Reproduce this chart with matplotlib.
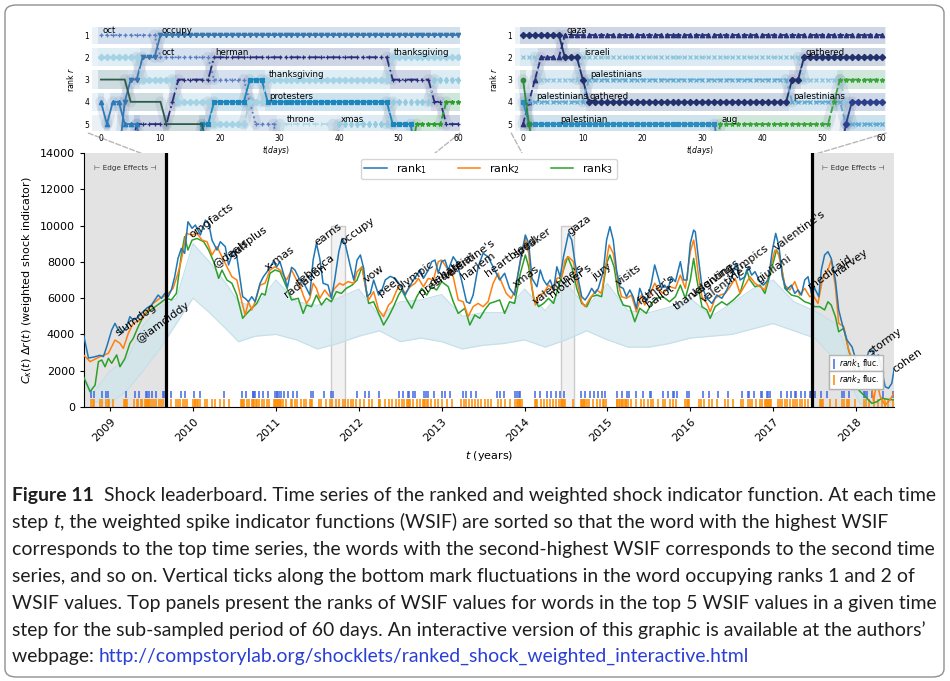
import numpy as np
import matplotlib
matplotlib.use('Agg')
import matplotlib.pyplot as plt
from matplotlib.patches import Rectangle, FancyBboxPatch, ConnectionPatch
from matplotlib.lines import Line2D

# ---------------- main panel data: (year, weighted shock indicator)
rank1 = [(2008.68, 4000), (2008.74, 2700), (2008.80, 2750), (2008.88, 2850), (2008.92, 2780), (2008.96, 3320),
         (2009.02, 4240), (2009.06, 4610), (2009.10, 4240), (2009.14, 4060), (2009.20, 4430), (2009.24, 4980),
         (2009.28, 4790), (2009.32, 4890), (2009.38, 5160), (2009.44, 5440), (2009.50, 5620), (2009.54, 5900),
         (2009.58, 6170), (2009.62, 5990), (2009.66, 6260), (2009.70, 6080), (2009.74, 6450), (2009.78, 7180),
         (2009.82, 8190), (2009.86, 8740), (2009.90, 8470), (2009.94, 10210), (2009.99, 9850), (2010.03, 10030),
         (2010.09, 9480), (2010.15, 10300), (2010.19, 10120), (2010.23, 9200), (2010.29, 8650), (2010.33, 9110),
         (2010.39, 8840), (2010.43, 7830), (2010.49, 8650), (2010.53, 8280), (2010.57, 7000), (2010.60, 6080),
         (2010.63, 5990), (2010.67, 5800), (2010.71, 6080), (2010.75, 5800), (2010.81, 6820), (2010.85, 7180),
         (2010.91, 7550), (2010.97, 8010), (2011.01, 7730), (2011.05, 8010), (2011.14, 6600), (2011.19, 7700),
         (2011.23, 7550), (2011.29, 7000), (2011.35, 6720), (2011.41, 6170), (2011.45, 8100), (2011.49, 9020),
         (2011.53, 8190), (2011.57, 6820), (2011.63, 6720), (2011.67, 5990), (2011.71, 7000), (2011.76, 8560),
         (2011.80, 9290), (2011.84, 8930), (2011.90, 7730), (2011.94, 7000), (2011.98, 8100), (2012.02, 8380),
         (2012.06, 7640), (2012.10, 6080), (2012.14, 6260), (2012.18, 7000), (2012.24, 6170), (2012.28, 6450),
         (2012.32, 7000), (2012.38, 7200), (2012.44, 7090), (2012.50, 6720), (2012.56, 6170), (2012.60, 6540),
         (2012.66, 7000), (2012.70, 7270), (2012.74, 7550), (2012.78, 7090), (2012.84, 7550), (2012.88, 8010),
         (2012.92, 8100), (2012.96, 7370), (2013.00, 8010), (2013.04, 8100), (2013.08, 7550), (2013.14, 8280),
         (2013.18, 8010), (2013.24, 7000), (2013.30, 5800), (2013.34, 5710), (2013.38, 6170), (2013.44, 7730),
         (2013.50, 8470), (2013.56, 8280), (2013.60, 7920), (2013.64, 7550), (2013.70, 7000), (2013.76, 7370),
         (2013.82, 6540), (2013.88, 6170), (2013.95, 8100), (2014.01, 9480), (2014.05, 9020), (2014.09, 7090),
         (2014.15, 6630), (2014.19, 7550), (2014.23, 7000), (2014.27, 6720), (2014.31, 7000), (2014.35, 6450),
         (2014.39, 7730), (2014.43, 7180), (2014.47, 8280), (2014.53, 9570), (2014.57, 9200), (2014.61, 7920),
         (2014.65, 7000), (2014.69, 6080), (2014.73, 5900), (2014.77, 6170), (2014.81, 6540), (2014.85, 6260),
         (2014.89, 6540), (2014.95, 7460), (2014.99, 9200), (2015.03, 9940), (2015.07, 9200), (2015.11, 7550),
         (2015.15, 6630), (2015.19, 6540), (2015.23, 6080), (2015.27, 6450), (2015.31, 6080), (2015.35, 5440),
         (2015.39, 6540), (2015.43, 6080), (2015.47, 5800), (2015.53, 6820), (2015.57, 7830), (2015.61, 7180),
         (2015.65, 6540), (2015.69, 6720), (2015.73, 6450), (2015.77, 7180), (2015.82, 6910), (2015.88, 8010),
         (2015.92, 7000), (2015.96, 7000), (2016.00, 9020), (2016.04, 9750), (2016.06, 9660), (2016.10, 8100),
         (2016.14, 6630), (2016.20, 5990), (2016.26, 5710), (2016.32, 6170), (2016.38, 5990), (2016.44, 6450),
         (2016.50, 7180), (2016.55, 7920), (2016.60, 7000), (2016.66, 7180), (2016.70, 7730), (2016.74, 7270),
         (2016.78, 7460), (2016.84, 6910), (2016.88, 6720), (2016.94, 7000), (2016.99, 8650), (2017.03, 9570),
         (2017.07, 8840), (2017.11, 7180), (2017.16, 6450), (2017.22, 6720), (2017.26, 6260), (2017.30, 6450),
         (2017.34, 6170), (2017.38, 7000), (2017.42, 7180), (2017.46, 6260), (2017.50, 6540), (2017.55, 6080),
         (2017.58, 7550), (2017.62, 8380), (2017.66, 8560), (2017.70, 8190), (2017.75, 7000), (2017.79, 5350),
         (2017.83, 4610), (2017.89, 3690), (2017.95, 3320), (2018.01, 2410), (2018.07, 1670), (2018.09, 1950),
         (2018.15, 3050), (2018.19, 3140), (2018.23, 2780), (2018.27, 2870), (2018.31, 2040), (2018.35, 1120),
         (2018.39, 1030), (2018.43, 1300), (2018.46, 2130)]

rank2 = [(2008.68, 2870), (2008.76, 2500), (2008.88, 2780), (2008.98, 2960), (2009.06, 3690), (2009.12, 3510),
         (2009.16, 3230), (2009.22, 4060), (2009.28, 4610), (2009.36, 4790), (2009.44, 5250), (2009.52, 5710),
         (2009.60, 5990), (2009.68, 6170), (2009.76, 6540), (2009.82, 7370), (2009.86, 8100), (2009.92, 9570),
         (2009.99, 9480), (2010.05, 9570), (2010.11, 9200), (2010.17, 9110), (2010.23, 8380), (2010.29, 8840),
         (2010.35, 8280), (2010.41, 7730), (2010.47, 7180), (2010.53, 7000), (2010.59, 5800), (2010.63, 5070),
         (2010.67, 5800), (2010.71, 5350), (2010.75, 5800), (2010.81, 6720), (2010.87, 6820), (2010.93, 7550),
         (2010.99, 7730), (2011.05, 7550), (2011.13, 7000), (2011.19, 7550), (2011.25, 7000), (2011.29, 6720),
         (2011.33, 6170), (2011.37, 5710), (2011.41, 5990), (2011.45, 6820), (2011.49, 6540), (2011.53, 5990),
         (2011.59, 6450), (2011.65, 6080), (2011.71, 6540), (2011.77, 6820), (2011.81, 6720), (2011.87, 6910),
         (2011.94, 6820), (2011.98, 7460), (2012.04, 7730), (2012.08, 6630), (2012.12, 5900), (2012.18, 6360),
         (2012.24, 5350), (2012.30, 4980), (2012.36, 5620), (2012.40, 5800), (2012.46, 6450), (2012.50, 6720),
         (2012.56, 6260), (2012.62, 6630), (2012.68, 6820), (2012.72, 7090), (2012.78, 6630), (2012.84, 7090),
         (2012.90, 7000), (2012.96, 8010), (2013.00, 8100), (2013.04, 7830), (2013.08, 7550), (2013.14, 7180),
         (2013.20, 5900), (2013.26, 5800), (2013.32, 4980), (2013.38, 5530), (2013.44, 5710), (2013.50, 5530),
         (2013.56, 5800), (2013.62, 6800), (2013.68, 7370), (2013.72, 6910), (2013.78, 6260), (2013.84, 5990),
         (2013.88, 6360), (2013.95, 8010), (2014.01, 9290), (2014.05, 8470), (2014.09, 6540), (2014.13, 5620),
         (2014.17, 6170), (2014.23, 6260), (2014.29, 6720), (2014.35, 6450), (2014.39, 7090), (2014.45, 7180),
         (2014.49, 8100), (2014.53, 8280), (2014.59, 8010), (2014.63, 7000), (2014.69, 5800), (2014.73, 5530),
         (2014.79, 5990), (2014.87, 6450), (2014.93, 6260), (2014.97, 7550), (2015.02, 8930), (2015.07, 8470),
         (2015.13, 6820), (2015.17, 6080), (2015.23, 5990), (2015.29, 6170), (2015.35, 5250), (2015.41, 6170),
         (2015.45, 5620), (2015.51, 6170), (2015.57, 6820), (2015.61, 6540), (2015.67, 6260), (2015.75, 6630),
         (2015.82, 6540), (2015.88, 7270), (2015.94, 6540), (2016.00, 8560), (2016.04, 9200), (2016.06, 8650),
         (2016.10, 7180), (2016.14, 6080), (2016.20, 5710), (2016.24, 5250), (2016.30, 5990), (2016.36, 6170),
         (2016.42, 6260), (2016.48, 6630), (2016.54, 7090), (2016.60, 6260), (2016.66, 6720), (2016.72, 7180),
         (2016.78, 6820), (2016.84, 6630), (2016.90, 6450), (2016.96, 7550), (2017.02, 8650), (2017.06, 8470),
         (2017.10, 7730), (2017.14, 6720), (2017.20, 6450), (2017.26, 6910), (2017.32, 6170), (2017.38, 6540),
         (2017.44, 6080), (2017.48, 6170), (2017.54, 5710), (2017.60, 7180), (2017.66, 7550), (2017.70, 8100),
         (2017.75, 6630), (2017.79, 4610), (2017.85, 4430), (2017.91, 3140), (2017.97, 2410), (2018.03, 1300),
         (2018.09, 1120), (2018.13, 2200), (2018.17, 1900), (2018.21, 300), (2018.25, 1400), (2018.29, 600),
         (2018.35, 100), (2018.41, 400), (2018.46, 800)]

rank3 = [(2008.68, 1670), (2008.76, 850), (2008.82, 1210), (2008.86, 2500), (2008.90, 2590), (2008.94, 2220),
         (2008.98, 2680), (2009.02, 2410), (2009.08, 2870), (2009.12, 2220), (2009.18, 2680), (2009.24, 3510),
         (2009.28, 3780), (2009.34, 4430), (2009.40, 4980), (2009.46, 5250), (2009.52, 5440), (2009.60, 5710),
         (2009.68, 5990), (2009.74, 5900), (2009.80, 6260), (2009.86, 8380), (2009.90, 9390), (2009.94, 8650),
         (2009.99, 9200), (2010.05, 9290), (2010.13, 9110), (2010.19, 8650), (2010.25, 8010), (2010.31, 7090),
         (2010.35, 7550), (2010.41, 7000), (2010.47, 6820), (2010.53, 6170), (2010.60, 4890), (2010.65, 5160),
         (2010.71, 5440), (2010.77, 5710), (2010.83, 6260), (2010.87, 6170), (2010.93, 7370), (2010.99, 7550),
         (2011.05, 7460), (2011.13, 6600), (2011.19, 5900), (2011.27, 5990), (2011.33, 5160), (2011.37, 5620),
         (2011.43, 5530), (2011.49, 6170), (2011.55, 5620), (2011.61, 5990), (2011.67, 5800), (2011.73, 6360),
         (2011.79, 6260), (2011.85, 6540), (2011.92, 6720), (2011.98, 7000), (2012.04, 7730), (2012.08, 6720),
         (2012.12, 5710), (2012.18, 5800), (2012.24, 5160), (2012.30, 4520), (2012.36, 4980), (2012.42, 5530),
         (2012.48, 6170), (2012.52, 6450), (2012.58, 5900), (2012.64, 5440), (2012.70, 6080), (2012.76, 6540),
         (2012.82, 6170), (2012.88, 6630), (2012.94, 6450), (2013.00, 6910), (2013.08, 6630), (2013.14, 5800),
         (2013.20, 5160), (2013.28, 5440), (2013.34, 4520), (2013.40, 5070), (2013.46, 4890), (2013.52, 5350),
         (2013.58, 5710), (2013.64, 5800), (2013.70, 5900), (2013.76, 5160), (2013.82, 5800), (2013.88, 5710),
         (2013.95, 7370), (2014.01, 8380), (2014.05, 7730), (2014.11, 5990), (2014.17, 5530), (2014.23, 5710),
         (2014.29, 5990), (2014.35, 5710), (2014.41, 6630), (2014.47, 7550), (2014.52, 8280), (2014.57, 7730),
         (2014.63, 6540), (2014.69, 5710), (2014.75, 5530), (2014.81, 6080), (2014.87, 6170), (2014.93, 6080),
         (2014.99, 7920), (2015.03, 8380), (2015.08, 7730), (2015.13, 6260), (2015.19, 5620), (2015.27, 5530),
         (2015.33, 4700), (2015.39, 5440), (2015.47, 5160), (2015.53, 5710), (2015.59, 5990), (2015.67, 6080),
         (2015.75, 5800), (2015.82, 6080), (2015.88, 6720), (2015.94, 5990), (2016.00, 7000), (2016.04, 8190),
         (2016.08, 7000), (2016.14, 5530), (2016.20, 5350), (2016.24, 4890), (2016.30, 5530), (2016.38, 5800),
         (2016.44, 5620), (2016.52, 5900), (2016.60, 6260), (2016.68, 7550), (2016.72, 7000), (2016.78, 6630),
         (2016.84, 6720), (2016.90, 6260), (2016.96, 7270), (2017.04, 8650), (2017.08, 8280), (2017.14, 6540),
         (2017.22, 6170), (2017.30, 6080), (2017.38, 5800), (2017.44, 5710), (2017.50, 5530), (2017.56, 5530),
         (2017.62, 5350), (2017.66, 5800), (2017.70, 5620), (2017.75, 4980), (2017.79, 4150), (2017.85, 4340),
         (2017.91, 3140), (2017.97, 2220), (2018.03, 940), (2018.11, 570), (2018.19, 200), (2018.25, 290),
         (2018.31, 480), (2018.39, 420), (2018.46, 390)]

# spread of the lower-ranked words
haze_low = [(2008.68, 1500), (2008.80, 300), (2009.00, 200), (2009.20, 900), (2009.40, 2000), (2009.60, 3200),
            (2009.80, 4600), (2010.00, 6000), (2010.20, 5200), (2010.40, 4300), (2010.55, 3600), (2010.75, 3900),
            (2011.00, 4000), (2011.25, 3700), (2011.50, 3200), (2011.75, 3500), (2012.00, 3900), (2012.25, 4200),
            (2012.50, 3600), (2012.75, 3800), (2013.00, 3600), (2013.25, 3200), (2013.50, 3400), (2013.75, 3500),
            (2014.00, 3700), (2014.25, 3300), (2014.50, 3700), (2014.75, 4200), (2015.00, 3700), (2015.25, 3300),
            (2015.50, 3300), (2015.75, 3500), (2016.00, 3800), (2016.25, 3900), (2016.50, 4000), (2016.75, 4300),
            (2017.00, 4600), (2017.25, 4200), (2017.50, 3800), (2017.75, 2600), (2017.90, 1500), (2018.05, 200),
            (2018.20, 0), (2018.46, 0)]
haze_high = [(2008.68, 1700), (2008.80, 800), (2009.00, 2000), (2009.20, 2600), (2009.40, 4500), (2009.60, 5500),
             (2009.80, 6000), (2010.00, 9000), (2010.20, 8000), (2010.40, 6800), (2010.55, 5800), (2010.75, 5500),
             (2011.00, 7000), (2011.25, 5800), (2011.50, 5600), (2011.75, 6000), (2012.00, 6500), (2012.25, 5000),
             (2012.50, 5800), (2012.75, 5900), (2013.00, 6200), (2013.25, 5000), (2013.50, 5200), (2013.75, 5200),
             (2014.00, 6500), (2014.25, 5300), (2014.50, 6800), (2014.75, 5500), (2015.00, 6800), (2015.25, 5300),
             (2015.50, 5200), (2015.75, 5500), (2016.00, 6000), (2016.25, 5000), (2016.50, 5700), (2016.75, 6500),
             (2017.00, 7000), (2017.25, 5800), (2017.50, 5300), (2017.75, 4600), (2017.90, 3000), (2018.05, 1000),
             (2018.20, 200), (2018.46, 300)]

# dates where the word at rank 1 / rank 2 changes
fluc_rank1 = [2008.69, 2008.77, 2008.81, 2008.90, 2008.95, 2008.97, 2009.19, 2009.30, 2009.35, 2009.43, 2009.45,
              2009.47, 2009.51, 2009.56, 2009.64, 2009.65, 2009.74, 2009.86, 2009.91, 2010.01, 2010.09, 2010.38,
              2010.59, 2010.64, 2010.72, 2010.73, 2010.74, 2010.75, 2010.80, 2010.84, 2010.91, 2010.99, 2011.01,
              2011.02, 2011.04, 2011.06, 2011.10, 2011.15, 2011.21, 2011.25, 2011.43, 2011.45, 2011.58, 2011.66,
              2011.69, 2011.98, 2012.07, 2012.12, 2012.24, 2012.49, 2012.53, 2012.59, 2012.61, 2012.66, 2012.68,
              2012.79, 2012.81, 2012.83, 2012.91, 2013.01, 2013.04, 2013.10, 2013.26, 2013.30, 2013.36, 2013.41,
              2013.67, 2013.70, 2013.75, 2013.89, 2013.91, 2013.93, 2013.95, 2014.13, 2014.19, 2014.27, 2014.32,
              2014.38, 2014.43, 2014.48, 2014.68, 2014.73, 2014.79, 2014.84, 2014.89, 2014.93, 2014.97, 2015.11,
              2015.18, 2015.24, 2015.26, 2015.35, 2015.43, 2015.51, 2015.53, 2015.67, 2015.73, 2015.79, 2015.80,
              2015.84, 2015.96, 2015.99, 2016.15, 2016.23, 2016.33, 2016.45, 2016.62, 2016.70, 2016.71, 2016.77,
              2016.85, 2016.87, 2016.92, 2016.94, 2016.96, 2017.09, 2017.17, 2017.21, 2017.26, 2017.27, 2017.34,
              2017.38, 2017.44, 2017.46, 2017.50, 2017.58, 2017.65, 2017.83, 2017.85, 2017.91, 2018.09, 2018.11,
              2018.13, 2018.19, 2018.33, 2018.45]
fluc_rank2 = [2008.69, 2008.77, 2008.79, 2008.81, 2008.88, 2008.90, 2008.95, 2008.97, 2008.99, 2009.03, 2009.17,
              2009.18, 2009.19, 2009.21, 2009.29, 2009.32, 2009.34, 2009.37, 2009.39, 2009.42, 2009.43, 2009.45,
              2009.46, 2009.47, 2009.48, 2009.51, 2009.53, 2009.56, 2009.59, 2009.61, 2009.64, 2009.68, 2009.74,
              2009.80, 2009.82, 2009.85, 2009.88, 2009.91, 2009.93, 2010.00, 2010.02, 2010.03, 2010.05, 2010.06,
              2010.08, 2010.14, 2010.17, 2010.23, 2010.27, 2010.33, 2010.38, 2010.43, 2010.58, 2010.59, 2010.60,
              2010.62, 2010.65, 2010.68, 2010.71, 2010.72, 2010.73, 2010.74, 2010.76, 2010.77, 2010.80, 2010.83,
              2010.86, 2010.89, 2010.92, 2010.98, 2010.99, 2011.00, 2011.01, 2011.03, 2011.04, 2011.05, 2011.06,
              2011.09, 2011.12, 2011.18, 2011.20, 2011.23, 2011.26, 2011.30, 2011.34, 2011.37, 2011.41, 2011.43,
              2011.44, 2011.52, 2011.55, 2011.61, 2011.65, 2011.68, 2011.72, 2011.76, 2011.81, 2011.84, 2011.87,
              2011.91, 2011.93, 2011.97, 2012.01, 2012.06, 2012.12, 2012.16, 2012.24, 2012.25, 2012.26, 2012.32,
              2012.36, 2012.40, 2012.45, 2012.48, 2012.52, 2012.55, 2012.58, 2012.59, 2012.61, 2012.62, 2012.65,
              2012.70, 2012.74, 2012.78, 2012.79, 2012.80, 2012.82, 2012.83, 2012.87, 2012.92, 2012.96, 2013.01,
              2013.07, 2013.12, 2013.23, 2013.27, 2013.30, 2013.33, 2013.37, 2013.40, 2013.44, 2013.48, 2013.52,
              2013.56, 2013.60, 2013.68, 2013.72, 2013.76, 2013.83, 2013.89, 2013.91, 2013.92, 2013.93, 2013.94,
              2013.95, 2013.97, 2014.13, 2014.14, 2014.15, 2014.20, 2014.23, 2014.27, 2014.31, 2014.34, 2014.38,
              2014.42, 2014.44, 2014.45, 2014.46, 2014.48, 2014.49, 2014.59, 2014.68, 2014.69, 2014.71, 2014.72,
              2014.73, 2014.75, 2014.78, 2014.83, 2014.87, 2014.91, 2014.95, 2014.96, 2014.98, 2015.11, 2015.12,
              2015.14, 2015.15, 2015.17, 2015.18, 2015.20, 2015.22, 2015.23, 2015.25, 2015.29, 2015.35, 2015.41,
              2015.44, 2015.49, 2015.52, 2015.55, 2015.61, 2015.67, 2015.69, 2015.75, 2015.79, 2015.83, 2015.94,
              2015.96, 2015.97, 2015.98, 2016.10, 2016.13, 2016.16, 2016.23, 2016.26, 2016.32, 2016.42, 2016.46,
              2016.52, 2016.61, 2016.63, 2016.70, 2016.72, 2016.75, 2016.79, 2016.84, 2016.87, 2016.90, 2016.91,
              2016.92, 2016.94, 2016.95, 2016.96, 2016.97, 2017.06, 2017.08, 2017.11, 2017.14, 2017.17, 2017.20,
              2017.24, 2017.26, 2017.29, 2017.32, 2017.35, 2017.38, 2017.42, 2017.56, 2017.58, 2017.59, 2017.60,
              2017.68, 2017.76, 2017.83, 2017.85, 2017.89, 2017.90, 2017.91, 2017.99, 2018.09, 2018.12, 2018.15,
              2018.22, 2018.27, 2018.31, 2018.35, 2018.39, 2018.45]

word_labels = [("slumdog", 2009.11, 3790), ("@iamdiddy", 2009.36, 3420), ("omgfacts", 2010.00, 9200),
               ("@dealsplus", 2010.29, 7550), ("gulf", 2010.49, 8100), ("x-mas", 2010.91, 7380),
               ("radiation", 2011.15, 5900), ("rebecca", 2011.29, 6610), ("earns", 2011.51, 8760),
               ("occupy", 2011.83, 8820), ("vow", 2012.11, 6720), ("peel", 2012.28, 6000),
               ("olympic", 2012.50, 6300), ("presidential", 2012.77, 6030), ("debate", 2012.90, 6550),
               ("valentine's", 2013.08, 6900), ("harlem", 2013.28, 6900), ("heartbleed", 2013.57, 7050),
               ("speaker", 2013.91, 8100), ("xmas", 2013.91, 6450), ("valentine's", 2014.15, 5510),
               ("mother's", 2014.34, 5900), ("gaza", 2014.57, 9370), ("jury", 2014.87, 6890),
               ("visits", 2015.15, 6560), ("father's", 2015.42, 5510), ("ballot", 2015.51, 5340),
               ("thanksgiving", 2015.85, 5230), ("valentines", 2016.06, 5900), ("valentine's", 2016.18, 5620),
               ("olympics", 2016.48, 7000), ("giuliani", 2016.84, 6720), ("valentine's", 2017.06, 8490),
               ("medicaid", 2017.47, 6340), ("harvey", 2017.78, 7120), ("stormy", 2018.20, 2760),
               ("cohen", 2018.49, 1760)]

years = list(range(2009, 2019))
t_start, t_end = 2008.686, 2018.457
edge_left, edge_right = 2009.68, 2017.47
zoom_windows = [(2011.66, 2011.83), (2014.44, 2014.60)]
window_top = 10000

# ---------------- top panels: daily ranks as runs of (rank, days); rank 0 = outside the top 5
left_runs = {
    'occupy': [(0, 4), (4, 1), (3, 2), (2, 3), (1, 51)],
    'oct': [(1, 10), (2, 9), (3, 6), (4, 1), (5, 4), (0, 31)],
    'herman': [(0, 6), (5, 6), (4, 1), (3, 6), (2, 30), (3, 7), (4, 2), (5, 3)],
    'protesters': [(0, 17), (5, 2), (4, 6), (3, 3), (4, 21), (5, 4), (0, 8)],
    'thanksgiving': [(2, 7), (3, 6), (4, 6), (5, 6), (4, 3), (3, 21), (2, 12)],
    'slate': [(3, 5), (4, 6), (5, 7), (0, 43)],
    'steel': [(4, 1), (5, 1), (4, 2), (5, 3), (0, 54)],
    'throne': [(0, 30), (5, 10), (0, 21)],
    'xmas': [(0, 40), (5, 9), (4, 7), (3, 5)],
    'star': [(0, 53), (5, 5), (4, 3)],
}
left_labels = [('oct', 0, 1), ('occupy', 10, 1), ('oct', 10, 2), ('herman', 19, 2), ('thanksgiving', 28, 3),
               ('thanksgiving', 49, 2), ('protesters', 28, 4), ('throne', 31, 5), ('xmas', 40, 5)]

right_runs = {
    'gaza': [(5, 1), (4, 1), (3, 1), (2, 4), (1, 54)],
    'gathered': [(1, 7), (2, 3), (3, 1), (4, 34), (3, 2), (2, 14)],
    'israeli': [(2, 3), (3, 7), (2, 37), (3, 7), (4, 1), (5, 6)],
    'palestinians': [(4, 11), (3, 34), (4, 9), (5, 7)],
    'palestinian': [(4, 1), (5, 32), (0, 28)],
    'aug': [(0, 33), (5, 19), (4, 1), (3, 8)],
    'fern': [(3, 1), (5, 1), (0, 59)],
    'navy': [(0, 54), (5, 1), (4, 6)],
}
right_labels = [('gaza', 7, 1), ('israeli', 10, 2), ('palestinians', 11, 3), ('palestinians', 2, 4),
                ('gathered', 11, 4), ('gathered', 47, 2), ('palestinians', 45, 4), ('palestinian', 6, 5),
                ('aug', 33, 5)]

left_styles = {
    'occupy': dict(color='#3a76ae', marker='v', ls='-'),
    'oct': dict(color='#5b7ec4', marker='+', ls=':'),
    'herman': dict(color='#2a2f7c', marker='+', ls='-.'),
    'protesters': dict(color='#1a86bb', marker='s', ls='-'),
    'thanksgiving': dict(color='#a3d3e5', marker='D', ls='--'),
    'slate': dict(color='#2d5c4d', marker='', ls='-'),
    'steel': dict(color='#2b7bba', marker='^', ls='-'),
    'throne': dict(color='#b1dae9', marker='|', ls='--'),
    'xmas': dict(color='#94cbe0', marker='d', ls=':'),
    'star': dict(color='#2ca02c', marker='*', ls='--'),
}
right_styles = {
    'gaza': dict(color='#27327a', marker='^', ls='--'),
    'gathered': dict(color='#22306e', marker='D', ls='-'),
    'israeli': dict(color='#8cc4dd', marker='x', ls=':'),
    'palestinians': dict(color='#5fa9d2', marker='x', ls='--'),
    'palestinian': dict(color='#2b8cbe', marker='s', ls='-'),
    'aug': dict(color='#3aa63a', marker='*', ls='--'),
    'fern': dict(color='#2e8b3e', marker='o', ls='-'),
    'navy': dict(color='#2c3e8c', marker='D', ls='-'),
}

caption = [
    [("Figure 11", "bold"),
     ("  Shock leaderboard. Time series of the ranked and weighted shock indicator function. At each time", "")],
    [("step ", ""), ("t", "italic"),
     (", the weighted spike indicator functions (WSIF) are sorted so that the word with the highest WSIF", "")],
    [("corresponds to the top time series, the words with the second-highest WSIF corresponds to the second time", "")],
    [("series, and so on. Vertical ticks along the bottom mark fluctuations in the word occupying ranks 1 and 2 of", "")],
    [("WSIF values. Top panels present the ranks of WSIF values for words in the top 5 WSIF values in a given time", "")],
    [("step for the sub-sampled period of 60 days. An interactive version of this graphic is available at the authors\u2019", "")],
    [("webpage: ", ""), ("http://compstorylab.org/shocklets/ranked_shock_weighted_interactive.html", "link")],
]

# ---------------- figure
W, H = 950, 681
plt.rcParams['font.size'] = 8
fig = plt.figure(figsize=(W / 100, H / 100), dpi=100)


def px_box(left, top, right, bottom):
    return [left / W, 1 - bottom / H, (right - left) / W, (bottom - top) / H]


ax = fig.add_axes(px_box(84, 153, 894, 407))
ax.set_xlim(t_start, t_end)
ax.set_ylim(0, 14000)

ax.axvspan(t_start, edge_left, color='#e3e3e3', lw=0, zorder=0)
ax.axvspan(edge_right, t_end, color='#e3e3e3', lw=0, zorder=0)
for a, b in zoom_windows:
    ax.add_patch(Rectangle((a, 0), b - a, window_top, facecolor='#f2f2f2', edgecolor='#cbcbcb',
                           lw=1, zorder=0.5))

ht, hl = zip(*haze_low)
ht2, hh = zip(*haze_high)
ax.fill_between(ht, hl, np.interp(ht, ht2, hh), color='#cfe6ee', alpha=0.7, lw=0, zorder=1)
ax.plot(ht, hl, color='#c3dfe9', lw=0.8, zorder=1)
ax.plot(ht2, hh, color='#c3dfe9', lw=0.8, zorder=1)

ax.vlines(fluc_rank1, 500, 900, color='#4169e1', lw=1.1, zorder=2)
ax.vlines(fluc_rank2, 0, 420, color='#ff8c00', lw=1.1, zorder=2)

series_colors = ['#1f77b4', '#ff7f0e', '#2ca02c']
for data, c in zip([rank3, rank2, rank1], series_colors[::-1]):
    t, v = zip(*data)
    ax.plot(t, v, color=c, lw=1.1, zorder=3)

ax.axvline(edge_left, color='k', lw=2.3, zorder=4)
ax.axvline(edge_right, color='k', lw=2.3, zorder=4)
ax.text((t_start + edge_left) / 2, 13150, '\u22a2 Edge Effects \u22a3', ha='center', va='center',
        fontsize=5.2, color='#333333', zorder=5)
ax.text((edge_right + t_end) / 2, 13150, '\u22a2 Edge Effects \u22a3', ha='center', va='center',
        fontsize=5.2, color='#333333', zorder=5)

for txt, t, v in word_labels:
    ax.text(t, v, txt, rotation=36, rotation_mode='anchor', ha='left', va='bottom', fontsize=8,
            zorder=6, clip_on=False)

ax.set_xticks(years)
ax.set_xticklabels([str(y) for y in years], rotation=45, ha='right', rotation_mode='anchor')
ax.set_yticks(range(0, 14001, 2000))
ax.tick_params(labelsize=8, length=3)
for s in ['top', 'right']:
    ax.spines[s].set_visible(False)
ax.set_xlabel('$t$ (years)', fontsize=8)
ax.set_ylabel(r'$C_\kappa(t)\ \Delta r(t)$ (weighted shock indicator)', fontsize=8)

handles = [Line2D([], [], color=c, lw=1.1) for c in series_colors]
leg = ax.legend(handles, [r'rank$_1$', r'rank$_2$', r'rank$_3$'], loc='upper center',
                bbox_to_anchor=(0.5, 1.0), ncol=3, fontsize=8, handlelength=2.0, columnspacing=2.8,
                borderpad=0.3, edgecolor='#cccccc')
ax.add_artist(leg)
for y_anchor, c, lab in [(0.169, '#4169e1', r'$rank_1$ fluc.'), (0.106, '#ff8c00', r'$rank_2$ fluc.')]:
    lg = ax.legend([Line2D([], [], color=c, marker='|', ls='None', ms=7, mew=1.1)], [lab], loc='center',
                   bbox_to_anchor=(0.953, y_anchor), fontsize=5.5, handlelength=0.6, handletextpad=0.4,
                   borderpad=0.35, edgecolor='#b0b0b0', framealpha=0.9, fancybox=False)
    ax.add_artist(lg)


# ---------------- rank panels
def expand(runs):
    out = []
    for r, n in runs:
        out += [r] * n
    return np.array(out)


def draw_ranks(axi, runs, styles, labels, xlim):
    days = np.arange(61)
    for r in range(1, 6):
        axi.barh(r, xlim[1] - xlim[0], left=xlim[0], height=0.82, color='#eaf2f7', lw=0, zorder=0)
    for name, rr in runs.items():
        st = styles[name]
        start = 0
        for r, n in rr:
            if r > 0:
                axi.barh(r, n, left=start - 0.5, height=0.82, color=st['color'], alpha=0.14, lw=0, zorder=0.5)
            start += n
        ranks = expand(rr)
        y = np.where(ranks == 0, 6.5, ranks).astype(float)
        for i in range(60):
            if y[i] != y[i + 1]:
                axi.plot(days[i:i + 2], y[i:i + 2], color='#7d8fb0', lw=8, alpha=0.18,
                         solid_capstyle='round', zorder=1)
        axi.plot(days, y, color=st['color'], ls=st['ls'], lw=1.3, marker=st['marker'] or None,
                 ms=3.2, mew=0.9, zorder=2)
    for txt, d, r in labels:
        axi.text(d + 0.2, r - 0.22, txt, fontsize=6.2, va='center', ha='left', zorder=5)
    axi.set_xlim(*xlim)
    axi.set_ylim(5.31, 0.64)
    axi.set_yticks([1, 2, 3, 4, 5])
    axi.set_xticks(range(0, 61, 10))
    axi.tick_params(labelsize=5.5, length=0, pad=2)
    for s in axi.spines.values():
        s.set_visible(False)
    axi.set_ylabel('rank $r$', fontsize=5.5, labelpad=6)
    axi.set_xlabel('$t(days)$', fontsize=5.5, labelpad=1)


ax_l = fig.add_axes(px_box(92, 27, 460, 131))
draw_ranks(ax_l, left_runs, left_styles, left_labels, (-1.5, 60.3))
ax_r = fig.add_axes(px_box(515, 27, 886, 131))
draw_ranks(ax_r, right_runs, right_styles, right_labels, (-1.34, 60.7))

for axi, (a, b) in zip([ax_l, ax_r], zoom_windows):
    for xa, xb in [(-0.01, a), (1.0, b)]:
        con = ConnectionPatch(xyA=(xa, -0.02), coordsA=axi.transAxes, xyB=(xb, window_top),
                              coordsB=ax.transData, ls='--', color='#b8b8b8', lw=1)
        con.set_zorder(0)
        fig.add_artist(con)

# ---------------- caption
renderer = fig.canvas.get_renderer()


def cap_kw(style, size):
    kw = dict(fontsize=size, family='Lato', color='#1e1e1e')
    if style == 'bold':
        kw['fontweight'] = 'bold'
    if style == 'italic':
        kw['style'] = 'italic'
    if style == 'link':
        kw['color'] = '#2a3fd4'
    return kw


def advance(s, style, size):
    a = fig.text(0, 0, s + 'l', **cap_kw(style, size))
    b = fig.text(0, 0, 'l', **cap_kw(style, size))
    w = a.get_window_extent(renderer).width - b.get_window_extent(renderer).width
    a.remove()
    b.remove()
    return w


base = 12
size = base * 918 / sum(advance(s, st, base) for s, st in caption[0])
baselines = [501, 528, 555, 582, 609, 636, 662]
for pieces, yb in zip(caption, baselines):
    x = 12
    for s, st in pieces:
        fig.text(x / W, 1 - yb / H, s, va='baseline', ha='left', **cap_kw(st, size))
        x += advance(s, st, size)

fig.patches.append(FancyBboxPatch((5 / W, 4 / H), 939 / W, 672 / H,
                                  boxstyle='round,pad=0,rounding_size=0.012', transform=fig.transFigure,
                                  fill=False, edgecolor='#8f8f8f', lw=1))

fig.savefig('out.png', dpi=100)
